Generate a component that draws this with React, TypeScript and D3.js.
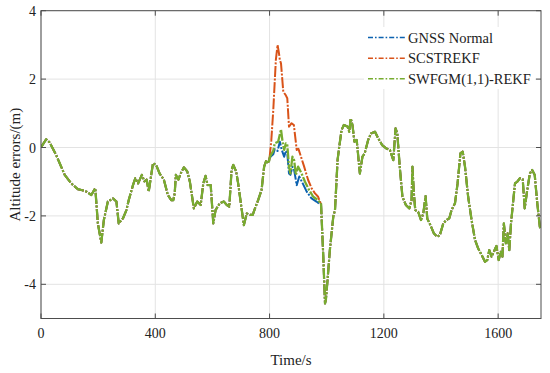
import React from 'react';
import * as d3 from 'd3';

const xTicks = [0, 400, 800, 1200, 1600];
const yTicks = [-4, -2, 0, 2, 4];
const seriesNames = ['GNSS Normal', 'SCSTREKF', 'SWFGM(1,1)-REKF'];
const seriesColors = ['#0B62B0', '#D95319', '#77AC30'];

// shared part before the divergence (all three curves coincide)
const beforeT = [0, 18, 30, 53, 70, 83, 106, 129, 145, 159, 176, 190, 199, 205, 211, 220, 234, 252, 264, 272, 287, 299, 307, 322, 330, 340, 353, 362, 370, 377, 392, 403, 415, 430, 444, 456, 463, 468, 472, 481, 489, 500, 512, 521, 535, 547, 559, 568, 576, 583, 594, 603, 611, 626, 640, 650, 659, 667, 673, 683, 690, 698, 710, 720, 732, 741, 749, 760, 772, 781, 789, 797, 800];
const beforeV = [0.0, 0.24, 0.15, -0.22, -0.55, -0.8, -1.05, -1.22, -1.25, -1.29, -1.39, -1.19, -2.22, -2.5, -2.78, -2.12, -1.58, -1.49, -1.58, -2.22, -2.07, -1.83, -1.54, -1.1, -0.9, -1.05, -0.8, -0.99, -0.94, -1.29, -0.46, -0.51, -0.76, -0.94, -1.39, -1.54, -1.54, -1.34, -0.8, -0.94, -0.76, -0.58, -0.7, -1.0, -1.78, -1.58, -1.68, -1.05, -0.83, -1.1, -1.1, -2.22, -1.83, -1.63, -1.58, -1.68, -1.73, -0.66, -0.51, -0.7, -1.05, -1.54, -2.27, -1.93, -1.97, -1.97, -1.78, -1.54, -1.24, -0.56, -0.37, -0.46, -0.3];

// divergent section (800 - 980 s)
const gnssMidT = [806, 813, 818, 828, 836, 842, 851, 857, 862, 868, 873, 880, 886, 895, 904, 916, 930, 947, 964, 976];
const gnssMidV = [-0.25, -0.2, -0.05, -0.1, 0.17, -0.05, -0.27, -0.1, -0.17, -0.76, -0.8, -0.56, -0.66, -1.1, -0.85, -1.05, -1.29, -1.49, -1.58, -1.66];
const scstMidT = [806, 813, 822, 828, 833, 836, 840, 848, 856, 862, 868, 877, 885, 895, 901, 910, 921, 935, 947, 959, 970, 976];
const scstMidV = [0.2, 1.1, 2.56, 3.0, 2.75, 2.56, 2.46, 1.63, 1.54, 1.44, 0.61, 0.71, 0.66, -0.07, -0.04, -0.27, -0.56, -0.95, -1.19, -1.34, -1.44, -1.58];
const swfgmMidT = [806, 813, 818, 830, 840, 845, 851, 857, 862, 868, 873, 880, 886, 892, 900, 912, 924, 938, 953, 970, 978];
const swfgmMidV = [-0.2, -0.1, 0.12, 0.17, 0.53, 0.2, -0.07, 0.12, 0.07, -0.56, -0.76, -0.27, -0.37, -0.8, -0.56, -0.76, -1.0, -1.24, -1.44, -1.54, -1.63];

// shared part after the divergence
const afterT = [980, 982, 988, 994, 997, 1002, 1011, 1023, 1029, 1038, 1043, 1052, 1060, 1073, 1079, 1084, 1090, 1097, 1105, 1116, 1125, 1133, 1145, 1155, 1169, 1180, 1194, 1209, 1221, 1233, 1241, 1247, 1256, 1265, 1277, 1289, 1297, 1300, 1305, 1310, 1320, 1330, 1338, 1346, 1352, 1363, 1375, 1387, 1396, 1408, 1419, 1429, 1437, 1449, 1458, 1468, 1476, 1484, 1495, 1507, 1519, 1530, 1542, 1554, 1562, 1569, 1577, 1585, 1594, 1602, 1609, 1615, 1620, 1627, 1633, 1639, 1645, 1653, 1659, 1667, 1676, 1686, 1693, 1701, 1711, 1719, 1728, 1737, 1746, 1750];
const afterV = [-1.63, -2.02, -3.19, -4.56, -4.46, -3.97, -3.0, -2.02, -1.83, -0.37, -0.03, 0.51, 0.66, 0.61, 0.46, 0.85, 0.66, 0.17, 0.22, -0.76, -0.27, -0.17, 0.22, 0.41, 0.46, 0.27, 0.07, -0.03, -0.07, -0.37, 0.56, 0.41, -0.6, -1.44, -1.68, -1.78, -1.54, -0.56, -1.34, -1.83, -1.88, -2.12, -1.93, -1.42, -2.08, -2.27, -2.51, -2.61, -2.56, -2.22, -2.12, -2.07, -1.83, -1.63, -1.05, -0.17, -0.12, -0.56, -1.44, -2.12, -2.7, -2.95, -3.14, -3.34, -3.29, -3.0, -3.19, -3.05, -2.88, -3.29, -3.05, -3.19, -2.22, -2.8, -2.51, -3.0, -2.22, -1.54, -1.05, -1.0, -0.9, -0.93, -1.78, -1.29, -0.76, -0.66, -0.8, -1.63, -2.32, -2.4];

const W = 550;
const H = 373;
const L = 41, R = 541, T = 10.7, B = 318.5;
const FONT = '"Liberation Serif", "Times New Roman", serif';

type P = [number, number];
const zip = (t: number[], v: number[]): P[] => t.map((x, i) => [x, v[i]] as P);

export default function App() {
  const x = d3.scaleLinear().domain([0, 1750]).range([L, R]);
  const y = d3.scaleLinear().domain([-5, 4]).range([B, T]);
  const line = d3.line<P>().x(d => x(d[0])).y(d => y(d[1]));
  const before = zip(beforeT, beforeV);
  const after = zip(afterT, afterV);
  const mids = [zip(gnssMidT, gnssMidV), zip(scstMidT, scstMidV), zip(swfgmMidT, swfgmMidV)];
  // each series drawn in three pieces so that dash patterns line up on the shared parts
  const pieces = mids.map(m => [
    before,
    [before[before.length - 1], ...m, after[0]],
    after,
  ]);
  const dash = '11,1.6,2,1.6';
  const legendDash = '5,2,1.6,2';
  const axisColor = '#4d4d4d';
  const legendRows = [37.5, 58.3, 78.8];
  const widths = [2.0, 2.0, 2.3];

  return (
    <svg width={W} height={H} style={{ position: 'absolute', left: 0, top: 0, background: '#fff' }}>
      <defs>
        <clipPath id="plotclip">
          <rect x={L} y={T} width={R - L} height={B - T} />
        </clipPath>
      </defs>
      <rect x={0} y={0} width={W} height={H} fill="#fff" />
      {/* grid */}
      {xTicks.map(t => (
        <line key={'gx' + t} x1={x(t)} x2={x(t)} y1={T} y2={B} stroke="#e3e3e3" strokeWidth={1} />
      ))}
      {yTicks.map(t => (
        <line key={'gy' + t} x1={L} x2={R} y1={y(t)} y2={y(t)} stroke="#e3e3e3" strokeWidth={1} />
      ))}
      {/* data */}
      <g clipPath="url(#plotclip)" fill="none" strokeLinejoin="round">
        {pieces.map((ps, i) => (
          <g key={i}>
            {ps.map((p, j) => (
              <path key={j} d={line(p) || ''} stroke={seriesColors[i]} strokeWidth={widths[i]} strokeDasharray={dash} />
            ))}
          </g>
        ))}
      </g>
      {/* frame */}
      <rect x={L} y={T} width={R - L} height={B - T} fill="none" stroke={axisColor} strokeWidth={1} />
      {xTicks.map(t => (
        <g key={'tx' + t}>
          <line x1={x(t)} x2={x(t)} y1={B} y2={B - 5} stroke={axisColor} />
          <line x1={x(t)} x2={x(t)} y1={T} y2={T + 5} stroke={axisColor} />
          <text x={x(t)} y={338} textAnchor="middle" fontFamily={FONT} fontSize={14} fill="#222">{t}</text>
        </g>
      ))}
      {yTicks.map(t => (
        <g key={'ty' + t}>
          <line x1={L} x2={L + 5} y1={y(t)} y2={y(t)} stroke={axisColor} />
          <line x1={R} x2={R - 5} y1={y(t)} y2={y(t)} stroke={axisColor} />
          <text x={36} y={y(t) + 5} textAnchor="end" fontFamily={FONT} fontSize={14} fill="#222">{t}</text>
        </g>
      ))}
      <text x={(L + R) / 2} y={365} textAnchor="middle" fontFamily={FONT} fontSize={15} fill="#222">Time/s</text>
      <text transform={`translate(20, ${(T + B) / 2}) rotate(-90)`} textAnchor="middle" fontFamily={FONT} fontSize={15} fill="#222">Altitude errors/(m)</text>
      {/* legend */}
      <rect x={364} y={27} width={171} height={62} fill="#fff" />
      {seriesNames.map((n, i) => (
        <g key={n}>
          <line x1={368} x2={405} y1={legendRows[i]} y2={legendRows[i]} stroke={seriesColors[i]} strokeWidth={1.6} strokeDasharray={legendDash} />
          <text x={408} y={legendRows[i] + 5} fontFamily={FONT} fontSize={14.5} fill="#222">{n}</text>
        </g>
      ))}
    </svg>
  );
}
